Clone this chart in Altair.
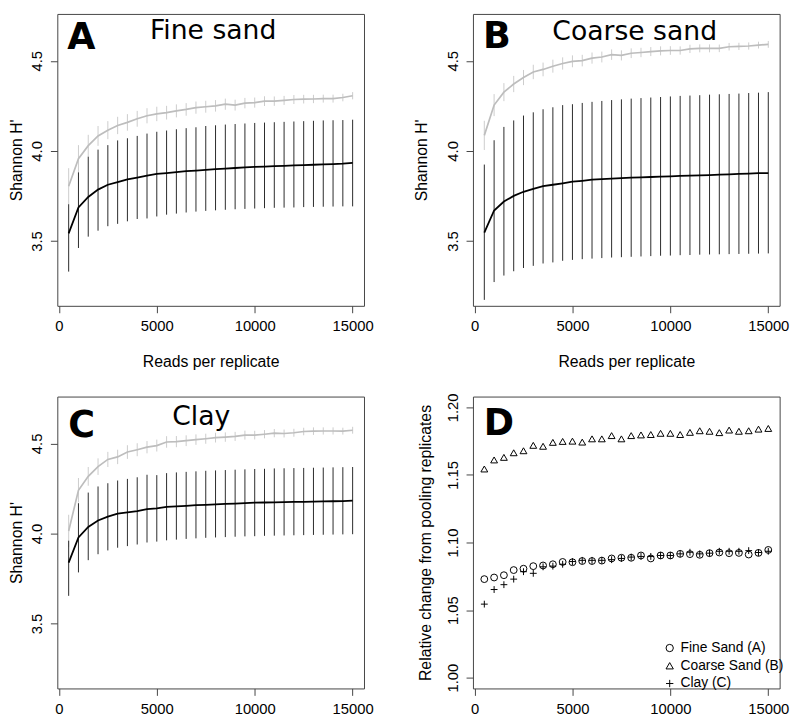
import altair as alt
import pandas as pd

# ---------------- data ----------------
reads = [500, 1000, 1500, 2000, 2500, 3000, 3500, 4000, 4500, 5000,
         5500, 6000, 6500, 7000, 7500, 8000, 8500, 9000, 9500, 10000,
         10500, 11000, 11500, 12000, 12500, 13000, 13500, 14000, 14500, 15000]

# Panel A - Fine sand
a_mean = [3.542, 3.686, 3.744, 3.785, 3.812, 3.827, 3.842, 3.852, 3.863, 3.872,
          3.877, 3.882, 3.887, 3.891, 3.895, 3.899, 3.902, 3.905, 3.908, 3.911,
          3.913, 3.915, 3.917, 3.919, 3.921, 3.923, 3.925, 3.927, 3.929, 3.933]
a_lo = [3.330, 3.461, 3.524, 3.557, 3.582, 3.595, 3.609, 3.622, 3.625, 3.636,
        3.646, 3.652, 3.658, 3.663, 3.667, 3.670, 3.673, 3.676, 3.678, 3.680,
        3.682, 3.684, 3.685, 3.686, 3.688, 3.689, 3.690, 3.691, 3.692, 3.692]
a_hi = [3.704, 3.881, 3.968, 4.007, 4.032, 4.058, 4.070, 4.083, 4.096, 4.106,
        4.113, 4.120, 4.126, 4.131, 4.138, 4.142, 4.146, 4.149, 4.152, 4.155,
        4.157, 4.159, 4.161, 4.163, 4.165, 4.167, 4.169, 4.170, 4.171, 4.173]
a_pool = [3.804, 3.957, 4.029, 4.083, 4.115, 4.141, 4.158, 4.178, 4.195, 4.205,
          4.212, 4.222, 4.230, 4.240, 4.245, 4.250, 4.259, 4.254, 4.265, 4.268,
          4.276, 4.276, 4.280, 4.285, 4.287, 4.288, 4.290, 4.290, 4.296, 4.306]
a_pool_err = [0.100, 0.075, 0.060, 0.055, 0.050, 0.048, 0.046, 0.044, 0.042, 0.040,
              0.038, 0.036, 0.035, 0.034, 0.033, 0.032, 0.031, 0.030, 0.029, 0.028,
              0.027, 0.026, 0.025, 0.025, 0.024, 0.023, 0.022, 0.022, 0.021, 0.020]

# Panel B - Coarse sand
b_mean = [3.546, 3.669, 3.719, 3.750, 3.773, 3.789, 3.804, 3.812, 3.820, 3.829,
          3.834, 3.840, 3.843, 3.846, 3.849, 3.851, 3.853, 3.855, 3.857, 3.859,
          3.861, 3.863, 3.864, 3.866, 3.868, 3.870, 3.872, 3.874, 3.876, 3.877]
b_lo = [3.173, 3.272, 3.308, 3.332, 3.350, 3.362, 3.375, 3.381, 3.390, 3.395,
        3.399, 3.402, 3.405, 3.408, 3.410, 3.412, 3.414, 3.416, 3.418, 3.419,
        3.421, 3.422, 3.424, 3.425, 3.426, 3.427, 3.428, 3.429, 3.430, 3.431]
b_hi = [3.924, 4.059, 4.133, 4.169, 4.196, 4.214, 4.231, 4.242, 4.254, 4.259,
        4.266, 4.272, 4.277, 4.282, 4.286, 4.290, 4.293, 4.296, 4.299, 4.302,
        4.305, 4.307, 4.309, 4.312, 4.314, 4.316, 4.318, 4.321, 4.323, 4.326]
b_pool = [4.086, 4.254, 4.326, 4.371, 4.407, 4.438, 4.452, 4.470, 4.485, 4.497,
          4.501, 4.515, 4.521, 4.534, 4.530, 4.542, 4.546, 4.551, 4.555, 4.557,
          4.557, 4.566, 4.569, 4.569, 4.569, 4.578, 4.580, 4.582, 4.587, 4.591]
b_pool_err = [0.081, 0.061, 0.050, 0.045, 0.042, 0.040, 0.038, 0.036, 0.034, 0.033,
              0.032, 0.031, 0.030, 0.029, 0.028, 0.027, 0.026, 0.025, 0.025, 0.024,
              0.023, 0.023, 0.022, 0.022, 0.021, 0.021, 0.020, 0.020, 0.019, 0.019]

# Panel C - Clay
c_mean = [3.838, 3.978, 4.036, 4.072, 4.094, 4.110, 4.117, 4.124, 4.135, 4.139,
          4.148, 4.150, 4.153, 4.157, 4.159, 4.162, 4.164, 4.166, 4.169, 4.171,
          4.172, 4.173, 4.174, 4.175, 4.176, 4.177, 4.178, 4.179, 4.180, 4.182]
c_lo = [3.654, 3.784, 3.852, 3.885, 3.906, 3.921, 3.930, 3.939, 3.950, 3.955,
        3.962, 3.966, 3.970, 3.973, 3.976, 3.978, 3.980, 3.982, 3.984, 3.985,
        3.987, 3.988, 3.989, 3.990, 3.991, 3.992, 3.993, 3.994, 3.995, 3.996]
c_hi = [3.960, 4.168, 4.227, 4.261, 4.279, 4.294, 4.303, 4.312, 4.326, 4.324,
        4.335, 4.339, 4.342, 4.345, 4.348, 4.350, 4.352, 4.354, 4.356, 4.358,
        4.359, 4.361, 4.362, 4.363, 4.364, 4.365, 4.366, 4.367, 4.368, 4.369]
c_pool = [4.014, 4.240, 4.317, 4.371, 4.411, 4.425, 4.452, 4.465, 4.479, 4.488,
          4.508, 4.510, 4.515, 4.521, 4.526, 4.532, 4.535, 4.539, 4.546, 4.546,
          4.551, 4.557, 4.555, 4.559, 4.566, 4.568, 4.569, 4.569, 4.568, 4.573]
c_pool_err = [0.090, 0.068, 0.052, 0.046, 0.042, 0.040, 0.038, 0.036, 0.034, 0.033,
              0.032, 0.031, 0.030, 0.029, 0.028, 0.027, 0.026, 0.025, 0.025, 0.024,
              0.023, 0.023, 0.022, 0.022, 0.021, 0.021, 0.020, 0.020, 0.019, 0.019]

# Panel D - relative change from pooling replicates
soil_names = ["Fine Sand (A)", "Coarse Sand (B)", "Clay (C)"]
d_fine = [1.0729, 1.0741, 1.0758, 1.0796, 1.0806, 1.0825, 1.0830, 1.0839, 1.0856, 1.0854,
          1.0863, 1.0863, 1.0866, 1.0882, 1.0887, 1.0887, 1.0904, 1.0882, 1.0904, 1.0904,
          1.0916, 1.0914, 1.0909, 1.0921, 1.0926, 1.0921, 1.0923, 1.0911, 1.0923, 1.0945]
d_coarse = [1.1544, 1.1611, 1.1630, 1.1664, 1.1679, 1.1719, 1.1712, 1.1741, 1.1748, 1.1750,
            1.1743, 1.1767, 1.1767, 1.1791, 1.1767, 1.1791, 1.1796, 1.1799, 1.1808, 1.1808,
            1.1799, 1.1815, 1.1827, 1.1823, 1.1813, 1.1832, 1.1823, 1.1827, 1.1839, 1.1844]
d_clay = [1.0544, 1.0652, 1.0688, 1.0729, 1.0784, 1.0772, 1.0820, 1.0825, 1.0839, 1.0859,
          1.0868, 1.0868, 1.0868, 1.0873, 1.0882, 1.0892, 1.0897, 1.0897, 1.0904, 1.0904,
          1.0916, 1.0928, 1.0916, 1.0921, 1.0935, 1.0935, 1.0935, 1.0940, 1.0926, 1.0935]

x_ticks = [0, 5000, 10000, 15000]
h_ticks = [3.5, 4.0, 4.5]
d_ticks = [1.00, 1.05, 1.10, 1.15, 1.20]

# ---------------- style ----------------
FONT = "Liberation Sans"
TFONT = "DejaVu Sans"
FRAME = "#444444"
LBL_FS = 15
TTL_FS = 16
W = 311
H = 296
ROW_GAP = 92
COL_GAP = 110.5

X_SCALE = alt.Scale(domain=[-80, 15580], nice=False, zero=False)
H_SCALE = alt.Scale(domain=[3.14, 4.76], nice=False, zero=False)
D_SCALE = alt.Scale(domain=[0.992, 1.208], nice=False, zero=False)


def x_axis(with_title):
    kw = dict(values=x_ticks, format="d", labelFontSize=LBL_FS, labelFont=FONT,
              labelColor="black", tickSize=7, tickColor=FRAME, domain=False,
              grid=False, labelPadding=6, labelFlush=False, labelOverlap=False)
    if with_title:
        kw.update(titleFont=FONT, titleFontSize=TTL_FS, titleFontWeight="normal",
                  titleColor="black", titleY=57, titleBaseline="middle")
    return alt.Axis(**kw)


def y_axis(values, fmt, title_x, h):
    return alt.Axis(values=values, format=fmt, labelFontSize=LBL_FS, labelFont=FONT,
                    labelColor="black", labelAngle=270, labelAlign="center",
                    labelBaseline="alphabetic", labelPadding=9, tickSize=7,
                    tickColor=FRAME, domain=False, grid=False, labelFlush=False,
                    labelOverlap=False, titleFont=FONT, titleFontSize=TTL_FS,
                    titleFontWeight="normal", titleColor="black", titleAngle=270,
                    titleX=title_x, titleY=h / 2, titleAlign="center",
                    titleBaseline="middle")


def labels(letter, name, lx, ly, nx, ny):
    lt = alt.Chart(pd.DataFrame({"t": [letter]})).mark_text(
        font=TFONT, fontWeight="bold", fontSize=37, align="left",
        baseline="alphabetic", color="black").encode(
        text="t:N", x=alt.value(lx), y=alt.value(ly))
    layers = [lt]
    if name:
        nt = alt.Chart(pd.DataFrame({"t": [name]})).mark_text(
            font=TFONT, fontSize=27, align="center", baseline="alphabetic",
            color="black").encode(text="t:N", x=alt.value(nx), y=alt.value(ny))
        layers.append(nt)
    return layers


def shannon_panel(mean, lo, hi, pool, pool_err, letter, name, title_x,
                  lx, ly, nx, ny, with_xtitle):
    df = pd.DataFrame({
        "reads": reads, "mean": mean, "lo": lo, "hi": hi, "pool": pool,
        "plo": [p - e for p, e in zip(pool, pool_err)],
        "phi": [p + e for p, e in zip(pool, pool_err)],
    })
    xt = "Reads per replicate" if with_xtitle else None
    x = alt.X("reads:Q", scale=X_SCALE, axis=x_axis(with_xtitle), title=xt)
    yax = y_axis(h_ticks, ".1f", title_x, H)
    yt = "Shannon H'"
    base = alt.Chart(df)
    pool_bars = base.mark_rule(color="#cccccc", strokeWidth=1).encode(
        x=x, y=alt.Y("plo:Q", scale=H_SCALE, axis=yax, title=yt), y2="phi:Q")
    pool_line = base.mark_line(color="#bdbdbd", strokeWidth=1.7).encode(
        x=x, y=alt.Y("pool:Q", scale=H_SCALE, axis=yax, title=yt))
    bars = base.mark_rule(color="#2a2a2a", strokeWidth=1).encode(
        x=x, y=alt.Y("lo:Q", scale=H_SCALE, axis=yax, title=yt), y2="hi:Q")
    line = base.mark_line(color="black", strokeWidth=1.8).encode(
        x=x, y=alt.Y("mean:Q", scale=H_SCALE, axis=yax, title=yt))
    return alt.layer(pool_bars, pool_line, bars, line,
                     *labels(letter, name, lx, ly, nx, ny)).properties(
        width=W, height=H)


panel_a = shannon_panel(a_mean, a_lo, a_hi, a_pool, a_pool_err, "A", "Fine sand",
                        -41, 10, 35.5, 158, 25.7, True)
panel_b = shannon_panel(b_mean, b_lo, b_hi, b_pool, b_pool_err, "B", "Coarse sand",
                        -52, 10.3, 34.5, 164, 26.5, True)
panel_c = shannon_panel(c_mean, c_lo, c_hi, c_pool, c_pool_err, "C", "Clay",
                        -41, 11, 41.5, 146, 28.5, False)

# Panel D (legend coordinates are relative to panel A's plot origin)
ddf = pd.DataFrame({
    "reads": reads * 3,
    "value": d_fine + d_coarse + d_clay,
    "soil": [soil_names[0]] * len(reads) + [soil_names[1]] * len(reads)
            + [soil_names[2]] * len(reads),
})
pts = alt.Chart(ddf).mark_point(filled=False, color="black", strokeWidth=1,
                                size=48, opacity=1).encode(
    x=alt.X("reads:Q", scale=X_SCALE, axis=x_axis(False), title=None),
    y=alt.Y("value:Q", scale=D_SCALE,
            axis=y_axis(d_ticks, ".2f", -48, H),
            title="Relative change from pooling replicates"),
    shape=alt.Shape("soil:N", scale=alt.Scale(
        domain=soil_names, range=["circle", "triangle-up", "M-1,0H1M0,-1V1"]),
        legend=alt.Legend(orient="none", legendX=W + COL_GAP + 192.5,
                          legendY=H + ROW_GAP + H - 48,
                          title=None, labelFont=FONT, labelFontSize=14,
                          labelColor="black", symbolSize=55,
                          symbolStrokeColor="black", symbolStrokeWidth=1,
                          symbolFillColor="transparent", rowPadding=4,
                          labelOffset=4, padding=0)),
)
panel_d = alt.layer(pts, *labels("D", None, 11, 39, 0, 0)).properties(
    width=W, height=H)

chart = alt.concat(panel_a, panel_b, panel_c, panel_d, columns=2,
                   spacing={"row": ROW_GAP, "column": COL_GAP},
                   bounds="flush").properties(
    padding={"left": 0, "top": 0, "right": 0, "bottom": 0},
    background="white",
).configure_view(stroke=FRAME, strokeWidth=1)

chart.save("out.html", embed_options={"renderer": "svg", "actions": False})
